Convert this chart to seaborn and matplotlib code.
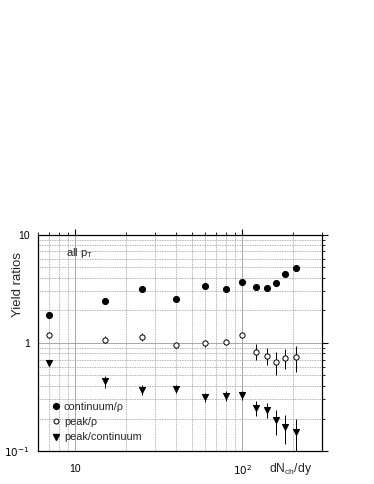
import numpy as np
import pandas as pd
import matplotlib
matplotlib.use('Agg')
import matplotlib.pyplot as plt
import seaborn as sns
from matplotlib.lines import Line2D

# dN_ch/dy bins
nch = [7, 15, 25, 40, 60, 80, 100, 120, 140, 160, 180, 210]

# continuum / rho
cont_rho = [1.83, 2.43, 3.12, 2.54, 3.35, 3.12, 3.67, 3.30, 3.23, 3.59, 4.35, 4.95]
cont_rho_err = [0.08, 0.10, 0.12, 0.10, 0.12, 0.12, 0.14, 0.12, 0.12, 0.14, 0.15, 0.18]

# peak / rho
peak_rho = [1.19, 1.07, 1.14, 0.95, 0.99, 1.02, 1.19, 0.83, 0.76, 0.67, 0.72, 0.74]
peak_rho_err = [0.07, 0.08, 0.10, 0.05, 0.07, 0.07, 0.08, 0.14, 0.14, 0.16, 0.15, 0.20]

# peak / continuum
peak_cont = [0.653, 0.441, 0.370, 0.378, 0.316, 0.325, 0.328, 0.250, 0.241, 0.192, 0.167, 0.150]
peak_cont_err = [0.03, 0.055, 0.04, 0.03, 0.03, 0.035, 0.03, 0.04, 0.04, 0.05, 0.05, 0.05]

sns.set_style('white')
plt.rcParams['font.family'] = ['Liberation Sans', 'DejaVu Sans']

fig = plt.figure(figsize=(3.74, 4.84), dpi=100)
ax = fig.add_axes([0.102, 0.068, 0.759, 0.447])

series = [
    ('continuum/ρ', cont_rho, cont_rho_err, 'o', 'black', 4.2),
    ('peak/ρ', peak_rho, peak_rho_err, 'o', 'white', 3.6),
    ('peak/continuum', peak_cont, peak_cont_err, 'v', 'black', 4.2),
]

for name, vals, errs, mk, fc, ms in series:
    ax.errorbar(nch, vals, yerr=errs, fmt='none', ecolor='black',
                elinewidth=0.7, capsize=0, zorder=3)
    df = pd.DataFrame({'x': nch, 'y': vals})
    sns.scatterplot(data=df, x='x', y='y', ax=ax, marker=mk, s=ms ** 2 * 1.1,
                    color=fc, edgecolor='black', linewidth=0.7, zorder=4,
                    legend=False)

ax.set_xscale('log')
ax.set_yscale('log')
ax.set_xlim(6, 300)
ax.set_ylim(0.1, 10)

ax.set_xticks([10, 100])
ax.set_xticklabels(['10', '$10^{2}$'])
ax.set_yticks([0.1, 1, 10])
ax.set_yticklabels(['$10^{-1}$', '1', '10'])

ax.grid(which='major', color='#9a9a9a', linestyle='-', linewidth=0.6)
ax.grid(which='minor', color='#9a9a9a', linestyle=(0, (1, 1)), linewidth=0.6)
ax.set_axisbelow(True)

for sp in ax.spines.values():
    sp.set_color('black')
    sp.set_linewidth(0.9)

ax.tick_params(which='both', direction='out', top=True, right=True,
               labelsize=7.5, pad=2, colors='black')
ax.tick_params(axis='x', which='both', pad=5)
ax.tick_params(which='major', length=4, width=0.8)
ax.tick_params(which='minor', length=2.5, width=0.6)
ax.tick_params(axis='y', which='minor', left=False)
ax.set_xlabel('')
ax.set_ylabel('')

fig.text(0.048, 0.413, 'Yield ratios', rotation=90, ha='center', va='center',
         fontsize=9.5)
fig.text(0.834, 0.032, 'dN$_{\\mathregular{ch}}$/dy', ha='right', va='center',
         fontsize=8.7)
ax.text(0.099, 0.917, 'all p$_{\\mathregular{T}}$', transform=ax.transAxes,
        fontsize=8, ha='left', va='center')

handles = [
    Line2D([], [], marker='o', color='black', markerfacecolor='black', markersize=4.2, linestyle='none'),
    Line2D([], [], marker='o', color='black', markerfacecolor='white', markersize=3.6, linestyle='none', markeredgewidth=0.7),
    Line2D([], [], marker='v', color='black', markerfacecolor='black', markersize=4.2, linestyle='none'),
]
ax.legend(handles, [s[0] for s in series], loc='lower left',
          bbox_to_anchor=(0.03, 0.02), frameon=False, fontsize=7.8,
          handletextpad=0.2, labelspacing=0.5, handlelength=1.0,
          borderaxespad=0)

fig.savefig('out.png', dpi=100)
